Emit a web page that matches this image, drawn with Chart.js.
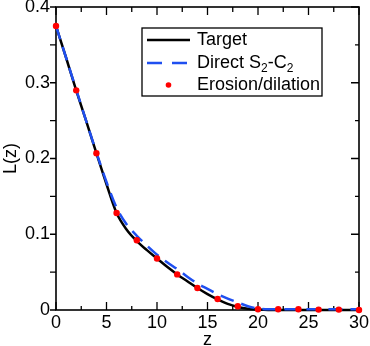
<!DOCTYPE html>
<html lang="en">
<head>
<meta charset="UTF-8" />
<title>L(z) - Target vs reconstructions</title>
<script src="https://cdn.jsdelivr.net/npm/chart.js"></script>
<style>
  html, body { margin: 0; padding: 0; background: #fff; }
  canvas { display: block; }
</style>
</head>
<body>
<canvas id="lzChart" width="370" height="346"></canvas>
<script>
  // z grid for the two curves
  const zCurve = [0, 1, 2, 3, 4, 5, 6, 7, 8, 9, 10, 11, 12, 13, 14, 15,
                  16, 17, 18, 19, 20, 21, 22, 23, 24, 25, 26, 27, 28, 29, 30];
  const targetL = [0.375, 0.333, 0.290, 0.249, 0.207, 0.166, 0.128, 0.106, 0.091, 0.079,
                   0.068, 0.057, 0.047, 0.038, 0.029, 0.021, 0.014, 0.008, 0.004, 0.0015,
                   0.0005, 0, 0, 0, 0, 0, 0, 0, 0, 0, 0];
  const directL = [0.375, 0.333, 0.291, 0.249, 0.208, 0.169, 0.135, 0.113, 0.098, 0.085,
                   0.073, 0.063, 0.054, 0.044, 0.035, 0.028, 0.021, 0.015, 0.010, 0.005,
                   0.002, 0.001, 0.001, 0.001, 0.001, 0.001, 0.001, 0.001, 0.001, 0.001, 0.001];
  // erosion/dilation points
  const zDots = [0, 2, 4, 6, 8, 10, 12, 14, 16, 18, 20, 22, 24, 26, 28, 30];
  const erosionL = [0.375, 0.290, 0.207, 0.128, 0.092, 0.068, 0.047, 0.029, 0.0145, 0.005,
                    0.001, 0.001, 0.001, 0.0005, 0.0005, 0];

  const xMajor = [0, 5, 10, 15, 20, 25, 30];
  const xMinor = [2.5, 7.5, 12.5, 17.5, 22.5, 27.5];
  const yMajor = [0, 0.1, 0.2, 0.3, 0.4];
  const yMinor = [0.05, 0.15, 0.25, 0.35];
  const yTickLabels = ['0', '0.1', '0.2', '0.3', '0.4'];

  const FONT = "'Liberation Sans', Arial, Helvetica, sans-serif";
  const BLUE = '#1f4ff0';

  const toPts = (xs, ys) => xs.map((x, i) => ({ x: x, y: ys[i] }));

  // frame + Grace-style ticks, drawn under the data
  const frameTicks = {
    id: 'frameTicks',
    beforeDatasetsDraw(chart) {
      const { ctx, chartArea: a, scales: { x, y } } = chart;
      ctx.save();
      ctx.strokeStyle = '#000';
      ctx.lineWidth = 1.6;
      ctx.strokeRect(a.left, a.top, a.right - a.left, a.bottom - a.top);
      ctx.lineWidth = 1.3;
      ctx.beginPath();
      const tick = (x1, y1, x2, y2) => { ctx.moveTo(x1, y1); ctx.lineTo(x2, y2); };
      xMajor.forEach(v => {
        const px = x.getPixelForValue(v);
        tick(px, a.bottom, px, a.bottom - 8);
        tick(px, a.top, px, a.top + 8);
      });
      xMinor.forEach(v => {
        const px = x.getPixelForValue(v);
        tick(px, a.bottom, px, a.bottom - 4);
        tick(px, a.top, px, a.top + 5);
      });
      yMajor.forEach(v => {
        const py = y.getPixelForValue(v);
        tick(a.left, py, a.left - 6, py);
        tick(a.right, py, a.right - 8, py);
      });
      yMinor.forEach(v => {
        const py = y.getPixelForValue(v);
        tick(a.left, py, a.left - 6, py);
        tick(a.right, py, a.right - 4, py);
      });
      ctx.stroke();
      ctx.restore();
    },
    afterDatasetsDraw(chart) {
      const ctx = chart.ctx;
      const box = { l: 142, t: 28, r: 322, b: 96 };
      ctx.save();
      ctx.fillStyle = '#fff';
      ctx.fillRect(box.l, box.t, box.r - box.l, box.b - box.t);
      ctx.strokeStyle = '#000';
      ctx.lineWidth = 1.3;
      ctx.strokeRect(box.l, box.t, box.r - box.l, box.b - box.t);

      const rows = [40, 63, 85];
      const x1 = 147, x2 = 190, tx = 197;
      // Target
      ctx.lineWidth = 2.5;
      ctx.strokeStyle = '#000';
      ctx.beginPath(); ctx.moveTo(x1, rows[0]); ctx.lineTo(x2, rows[0]); ctx.stroke();
      // Direct
      ctx.strokeStyle = BLUE;
      ctx.setLineDash([15, 10]);
      ctx.beginPath(); ctx.moveTo(x1, rows[1]); ctx.lineTo(x2, rows[1]); ctx.stroke();
      ctx.setLineDash([]);
      // Erosion/dilation
      ctx.fillStyle = '#ff0000';
      ctx.beginPath(); ctx.arc((x1 + x2) / 2, rows[2], 2.8, 0, Math.PI * 2); ctx.fill();

      ctx.fillStyle = '#000';
      ctx.textBaseline = 'middle';
      ctx.font = '18px ' + FONT;
      ctx.fillText('Target', tx, rows[0]);
      ctx.fillText('Erosion/dilation', tx, rows[2]);

      // Direct S2-C2 with subscripts
      let cx = tx;
      const big = '18px ' + FONT, small = '12px ' + FONT;
      [['Direct S', big, 0], ['2', small, 6], ['-C', big, 0], ['2', small, 6]].forEach(p => {
        ctx.font = p[1];
        ctx.fillText(p[0], cx, rows[1] + p[2]);
        cx += ctx.measureText(p[0]).width;
      });
      ctx.restore();
    }
  };

  new Chart(document.getElementById('lzChart'), {
    type: 'scatter',
    data: {
      datasets: [
        {
          label: 'Erosion/dilation',
          data: toPts(zDots, erosionL),
          showLine: false,
          pointRadius: 3.2,
          pointBackgroundColor: '#ff0000',
          pointBorderWidth: 0,
          clip: false
        },
        {
          label: 'Direct S2-C2',
          data: toPts(zCurve, directL),
          showLine: true,
          borderColor: BLUE,
          borderWidth: 2.5,
          borderDash: [14, 8],
          pointRadius: 0,
          cubicInterpolationMode: 'monotone',
          clip: false
        },
        {
          label: 'Target',
          data: toPts(zCurve, targetL),
          showLine: true,
          borderColor: '#000',
          borderWidth: 2.5,
          pointRadius: 0,
          cubicInterpolationMode: 'monotone',
          clip: false
        }
      ]
    },
    options: {
      responsive: false,
      animation: false,
      layout: { padding: { top: 7, right: 11, left: 0, bottom: 0 } },
      plugins: { legend: { display: false }, tooltip: { enabled: false } },
      scales: {
        x: {
          type: 'linear',
          min: 0, max: 30,
          grid: { display: false, drawTicks: false },
          border: { display: false },
          ticks: {
            stepSize: 5,
            padding: 2,
            maxRotation: 0,
            color: '#000',
            font: { family: FONT, size: 18 }
          },
          title: {
            display: true, text: 'z', color: '#000',
            font: { family: FONT, size: 18 },
            padding: { top: 0, bottom: -5 }
          },
          afterFit: s => { s.height = 36; s.paddingLeft = 0; s.paddingRight = 0; }
        },
        y: {
          min: 0, max: 0.4,
          grid: { display: false, drawTicks: false },
          border: { display: false },
          ticks: {
            stepSize: 0.1,
            padding: 6,
            color: '#000',
            font: { family: FONT, size: 18 },
            callback: (v, i) => yTickLabels[i]
          },
          title: {
            display: true, text: 'L(z)', color: '#000',
            font: { family: FONT, size: 18 },
            padding: { top: 0, bottom: 0 }
          },
          afterFit: s => { s.width = 56; s.paddingTop = 0; s.paddingBottom = 0; }
        }
      }
    },
    plugins: [frameTicks]
  });
</script>
</body>
</html>
